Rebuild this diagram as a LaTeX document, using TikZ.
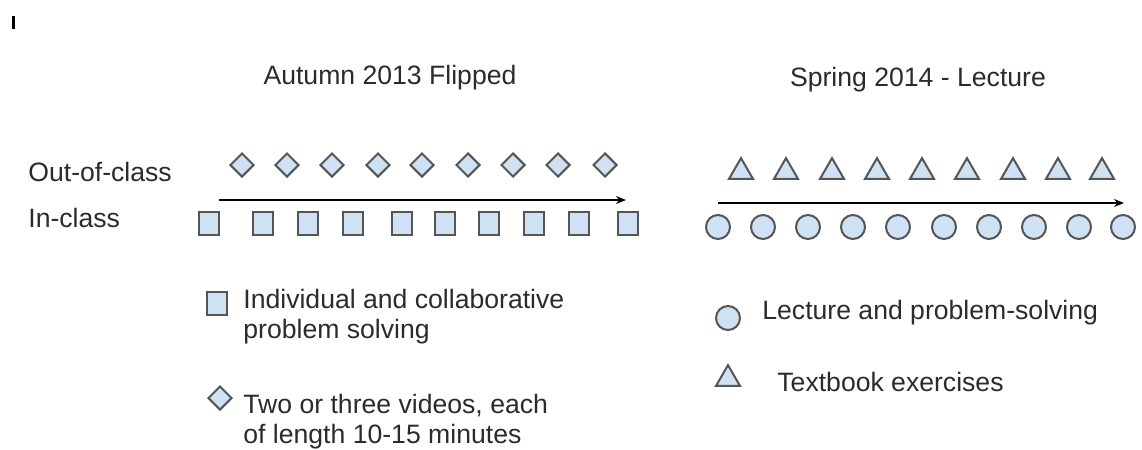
\documentclass[tikz,border=0pt]{standalone}
\usepackage{fontspec}
\setmainfont{Liberation Sans}
\usepackage{xcolor}
\usetikzlibrary{shapes.geometric,arrows.meta}
\definecolor{shapefill}{HTML}{CFE2F3}
\definecolor{shapeline}{HTML}{555555}
\definecolor{inktext}{HTML}{2B2B2B}
\tikzset{
  lbl/.style      = {anchor=west, inner sep=0pt, text=inktext,
                     font=\fontsize{13.3}{15}\selectfont, align=left},
  ttl/.style      = {inner sep=0pt, text=inktext,
                     font=\fontsize{13.3}{15}\selectfont},
  inclass/.style  = {rectangle, draw=shapeline, fill=shapefill, line width=1pt,
                     inner sep=0pt, minimum width=10pt, minimum height=11.5pt},
  video/.style    = {diamond, draw=shapeline, fill=shapefill, line width=1pt,
                     inner sep=0pt, aspect=1, minimum width=12pt, minimum height=12pt},
  lecture/.style  = {circle, draw=shapeline, fill=shapefill, line width=1pt,
                     inner sep=0pt, minimum size=12pt},
  exercise/.style = {regular polygon, regular polygon sides=3, draw=shapeline,
                     fill=shapefill, line width=1pt, inner sep=0pt, minimum size=13.9pt},
  arr/.style      = {-{Stealth[length=5pt,width=4pt]}, line width=0.75pt, black}
}

\begin{document}
\begin{tikzpicture}[x=0.5pt, y=-0.5pt]
\useasboundingbox (0,0) rectangle (1142,450);
\draw[line width=1.5pt, black] (13.5,16) -- (13.5,29);

% headings and row labels
\node[ttl] (flipped) at (390,78) {Autumn 2013 Flipped};
\node[ttl] (lecture) at (918,80) {Spring 2014 - Lecture};
\node[lbl] (outlbl)  at (28,172) {Out-of-class};
\node[lbl] (inlbl)   at (28,218) {In-class};

% flipped semester: videos out of class, problem solving in class
\node[video] (vid1) at (242,165) {};
\node[video] (vid2) at (287,165) {};
\node[video] (vid3) at (332,165) {};
\node[video] (vid4) at (378,165) {};
\node[video] (vid5) at (422,165) {};
\node[video] (vid6) at (468,165) {};
\node[video] (vid7) at (513,165) {};
\node[video] (vid8) at (558,165) {};
\node[video] (vid9) at (605,165) {};
\node[inclass] (cls1)  at (209,223) {};
\node[inclass] (cls2)  at (263,223) {};
\node[inclass] (cls3)  at (308,223) {};
\node[inclass] (cls4)  at (353,223) {};
\node[inclass] (cls5)  at (402,223) {};
\node[inclass] (cls6)  at (445,223) {};
\node[inclass] (cls7)  at (489,223) {};
\node[inclass] (cls8)  at (534,223) {};
\node[inclass] (cls9)  at (579,223) {};
\node[inclass] (cls10) at (628,223) {};
\coordinate (fstart) at (219,200);
\coordinate (fend)   at (626,200);
\draw[arr] (fstart) -- (fend);

% lecture semester: exercises out of class, lectures in class
\node[exercise] (ex1) at (741,172) {};
\node[exercise] (ex2) at (786,172) {};
\node[exercise] (ex3) at (832,172) {};
\node[exercise] (ex4) at (877,172) {};
\node[exercise] (ex5) at (922,172) {};
\node[exercise] (ex6) at (967,172) {};
\node[exercise] (ex7) at (1013,172) {};
\node[exercise] (ex8) at (1058,172) {};
\node[exercise] (ex9) at (1102,172) {};
\node[lecture] (lec1)  at (718,227) {};
\node[lecture] (lec2)  at (763,227) {};
\node[lecture] (lec3)  at (808,227) {};
\node[lecture] (lec4)  at (853,227) {};
\node[lecture] (lec5)  at (898,227) {};
\node[lecture] (lec6)  at (944,227) {};
\node[lecture] (lec7)  at (989,227) {};
\node[lecture] (lec8)  at (1034,227) {};
\node[lecture] (lec9)  at (1079,227) {};
\node[lecture] (lec10) at (1123,227) {};
\coordinate (lstart) at (718,203);
\coordinate (lend)   at (1124,203);
\draw[arr] (lstart) -- (lend);

% legends
\node[inclass] (keycls) at (217,303) {};
\node[lbl] (keyclstxt) at (243,317) {Individual and collaborative\\problem solving};
\node[video]   (keyvid) at (220,398) {};
\node[lbl] (keyvidtxt) at (243,422) {Two or three videos, each\\of length 10-15 minutes};
\node[lecture]  (keylec) at (728,318) {};
\node[lbl] (keylectxt) at (762,313) {Lecture and problem-solving};
\node[exercise] (keyex)  at (728,379) {};
\node[lbl] (keyextxt)  at (777,382) {Textbook exercises};
\end{tikzpicture}
\end{document}
